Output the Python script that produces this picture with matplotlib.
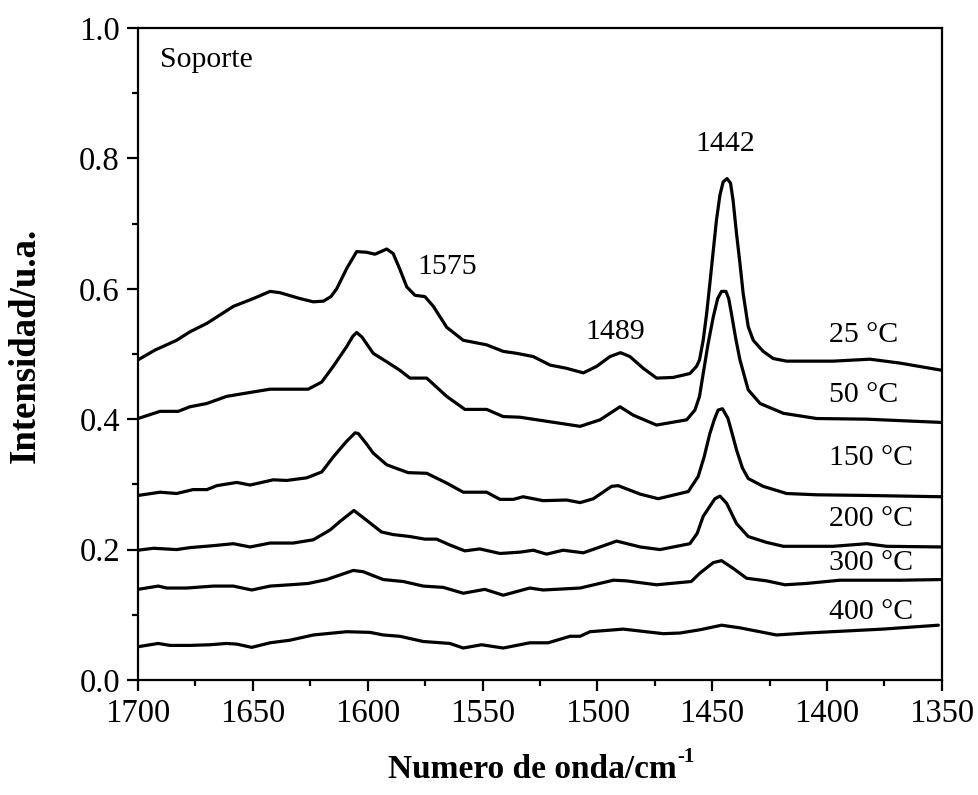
import matplotlib
matplotlib.use("Agg")
import matplotlib.pyplot as plt
from matplotlib.ticker import MultipleLocator, FormatStrFormatter

plt.rcParams['font.family'] = ['Liberation Serif', 'DejaVu Serif']

# FTIR spectra (wavenumber in cm-1, intensity in a.u.) at each desorption temperature
wn_25 = [1700, 1692.6, 1683.2, 1677.4, 1670, 1658.5, 1649.8, 1642.5, 1638.2, 1629.5,
         1623.7, 1619.3, 1616.0, 1613.5, 1609.0, 1604.8, 1600.5, 1596.8, 1591.7, 1588.9,
         1586.0, 1583.0, 1579.4, 1575.1, 1571.4, 1565.6, 1558.4, 1548.2, 1541.0, 1535.1,
         1527.9, 1520.6, 1513.4, 1506.1, 1500.3, 1494.5, 1489.9, 1485.8, 1480.0, 1474.2,
         1467.0, 1459.7, 1456.8, 1455.5, 1453.9, 1452.4, 1451.0, 1449.5, 1448.1, 1446.6,
         1445.2, 1443.5, 1442.0, 1440.9, 1439.4, 1437.9, 1436.5, 1434.3, 1432.1, 1427.8,
         1423.4, 1417.6, 1397.3, 1381.3, 1368.2, 1350]
int_25 = [0.491, 0.506, 0.521, 0.534, 0.547, 0.573, 0.585, 0.596, 0.594, 0.585,
          0.580, 0.581, 0.588, 0.600, 0.632, 0.657, 0.656, 0.653, 0.661, 0.654,
          0.630, 0.603, 0.590, 0.588, 0.573, 0.541, 0.521, 0.514, 0.504, 0.501,
          0.496, 0.483, 0.478, 0.471, 0.481, 0.496, 0.502, 0.496, 0.478, 0.463,
          0.464, 0.470, 0.481, 0.491, 0.521, 0.562, 0.608, 0.659, 0.706, 0.744,
          0.764, 0.769, 0.762, 0.736, 0.685, 0.639, 0.593, 0.542, 0.521, 0.504,
          0.493, 0.489, 0.489, 0.492, 0.486, 0.475]

wn_50 = [1700, 1690.4, 1682.5, 1677.4, 1670.1, 1661.4, 1651.2, 1642.5, 1625.9, 1620.0,
         1615.0, 1609.2, 1606.5, 1604.8, 1602.5, 1597.6, 1591.7, 1586.0, 1581.6, 1574.3,
         1565.6, 1557.7, 1548.2, 1541.0, 1533.7, 1520.6, 1507.5, 1498.8, 1490.1, 1484.3,
         1474.2, 1461.1, 1457.5, 1455.5, 1453.9, 1451.8, 1449.5, 1447.6, 1445.9, 1444.0,
         1442.8, 1441.6, 1439.8, 1437.9, 1434.3, 1429.1, 1419.0, 1404.5, 1382.7, 1350]
int_50 = [0.401, 0.412, 0.412, 0.419, 0.424, 0.435, 0.441, 0.446, 0.446, 0.457,
          0.481, 0.511, 0.527, 0.533, 0.526, 0.501, 0.488, 0.475, 0.463, 0.463,
          0.435, 0.415, 0.415, 0.404, 0.403, 0.396, 0.389, 0.399, 0.419, 0.406,
          0.391, 0.399, 0.414, 0.435, 0.470, 0.515, 0.557, 0.585, 0.596, 0.596,
          0.585, 0.562, 0.525, 0.491, 0.445, 0.424, 0.409, 0.401, 0.400, 0.395]

wn_150 = [1700, 1690.4, 1683.2, 1676.0, 1670, 1665.7, 1657.0, 1651.2, 1641.1, 1635.3,
          1626.6, 1620.0, 1615.0, 1609.2, 1605.5, 1604.1, 1600.5, 1597.6, 1591.7, 1582.4,
          1574.3, 1565.6, 1558.4, 1548.2, 1542.4, 1536.6, 1532.3, 1523.6, 1513.4, 1507.5,
          1501.7, 1493.8, 1490.9, 1481.3, 1473.5, 1460.4, 1456.1, 1453.5, 1451.0, 1449.0,
          1447.4, 1445.5, 1443.1, 1441.3, 1439.4, 1436.8, 1434.3, 1427.8, 1417.6, 1404.5,
          1382.7, 1350]
int_150 = [0.283, 0.288, 0.286, 0.292, 0.292, 0.298, 0.303, 0.299, 0.307, 0.306,
           0.310, 0.319, 0.342, 0.366, 0.379, 0.378, 0.362, 0.348, 0.330, 0.318,
           0.317, 0.302, 0.288, 0.288, 0.277, 0.277, 0.281, 0.275, 0.276, 0.272,
           0.278, 0.297, 0.298, 0.285, 0.278, 0.289, 0.312, 0.342, 0.378, 0.400,
           0.414, 0.416, 0.401, 0.378, 0.353, 0.325, 0.309, 0.297, 0.286, 0.284,
           0.283, 0.281]

wn_200 = [1700, 1693.3, 1683.2, 1677.4, 1667.2, 1658.5, 1651.2, 1642.5, 1632.4, 1623.7,
          1616.4, 1612.1, 1606.0, 1600.5, 1594.0, 1588.9, 1581.6, 1575.1, 1570.0, 1564.2,
          1557.7, 1551.2, 1542.4, 1533.7, 1527.9, 1522.1, 1514.9, 1506.1, 1498.8, 1491.6,
          1481.3, 1472.7, 1459.7, 1456.5, 1453.9, 1448.8, 1446.6, 1443.7, 1439.4, 1434.3,
          1426.3, 1419.0, 1397.3, 1382.7, 1374.0, 1350]
int_200 = [0.199, 0.202, 0.200, 0.203, 0.206, 0.209, 0.204, 0.210, 0.210, 0.215,
           0.230, 0.243, 0.260, 0.245, 0.227, 0.223, 0.220, 0.216, 0.216, 0.207,
           0.198, 0.201, 0.194, 0.196, 0.199, 0.193, 0.199, 0.195, 0.204, 0.213,
           0.204, 0.200, 0.209, 0.225, 0.251, 0.278, 0.282, 0.271, 0.240, 0.220,
           0.211, 0.205, 0.205, 0.209, 0.205, 0.204]

wn_300 = [1700, 1691.2, 1687.5, 1678.8, 1667.2, 1658.5, 1650.5, 1642.5, 1633.8, 1625.9,
          1617.9, 1612.1, 1606.3, 1601.9, 1597.6, 1593.2, 1584.5, 1575.8, 1567.1, 1558.4,
          1549.0, 1541.0, 1529.4, 1523.6, 1507.5, 1493.0, 1487.3, 1474.2, 1459.1, 1455.3,
          1449.5, 1445.9, 1440.8, 1435.0, 1426.3, 1418.3, 1409.0, 1394.4, 1368.2, 1350]
int_300 = [0.139, 0.144, 0.141, 0.141, 0.144, 0.144, 0.138, 0.144, 0.146, 0.148,
           0.154, 0.161, 0.168, 0.166, 0.160, 0.154, 0.151, 0.144, 0.142, 0.133,
           0.139, 0.130, 0.141, 0.138, 0.141, 0.153, 0.152, 0.146, 0.151, 0.164,
           0.180, 0.183, 0.171, 0.156, 0.152, 0.146, 0.148, 0.153, 0.153, 0.154]

wn_400 = [1700, 1691.2, 1686.1, 1677.4, 1668.7, 1661.4, 1657.0, 1650.5, 1642.5, 1633.8,
          1623.7, 1615.0, 1609.2, 1599.0, 1593.2, 1586.0, 1575.8, 1564.2, 1558.4, 1550.4,
          1541.0, 1529.4, 1521.4, 1511.9, 1507.5, 1503.2, 1488.7, 1471.3, 1464.0, 1455.3,
          1445.9, 1438.0, 1422.0, 1409.0, 1375.7, 1351.5]
int_400 = [0.051, 0.056, 0.053, 0.053, 0.054, 0.056, 0.055, 0.050, 0.057, 0.061,
           0.069, 0.072, 0.074, 0.073, 0.069, 0.067, 0.059, 0.056, 0.049, 0.054,
           0.049, 0.057, 0.057, 0.067, 0.067, 0.074, 0.078, 0.071, 0.072, 0.077,
           0.084, 0.080, 0.069, 0.072, 0.078, 0.084]

spectra = [(wn_25, int_25), (wn_50, int_50), (wn_150, int_150),
           (wn_200, int_200), (wn_300, int_300), (wn_400, int_400)]

temp_labels = ['25 °C', '50 °C', '150 °C', '200 °C', '300 °C', '400 °C']
temp_label_y = [0.529, 0.437, 0.340, 0.247, 0.179, 0.104]

band_labels = ['1575', '1489', '1442']
band_label_x = [1565.3, 1492.3, 1444.4]
band_label_y = [0.633, 0.534, 0.822]

fig = plt.figure(figsize=(9.79, 7.95), dpi=100)
ax = fig.add_axes([0.141, 0.1447, 0.821, 0.8201])

for wn, inten in spectra:
    ax.plot(wn, inten, color='black', lw=2.3, solid_joinstyle='round',
            solid_capstyle='round')

ax.set_xlim(1700, 1350)
ax.set_ylim(0, 1.0)
ax.xaxis.set_major_locator(MultipleLocator(50))
ax.xaxis.set_minor_locator(MultipleLocator(25))
ax.yaxis.set_major_locator(MultipleLocator(0.2))
ax.yaxis.set_minor_locator(MultipleLocator(0.1))
ax.yaxis.set_major_formatter(FormatStrFormatter('%.1f'))

ax.tick_params(which='both', direction='out', top=False, right=False,
               width=1.6, labelsize=23.5)
ax.tick_params(which='major', length=8, pad=5)
ax.tick_params(which='minor', length=4.5)
for sp in ax.spines.values():
    sp.set_linewidth(1.6)

ax.set_ylabel('Intensidad/u.a.', fontsize=26.5, fontweight='bold', labelpad=26)
ax.yaxis.label.set_y(0.513)

# x-axis title with a small raised "-1" exponent
xtitle = fig.text(0.5435, 0.0215, 'Numero de onda/cm', fontsize=24,
                  fontweight='bold', ha='center', va='baseline')
fig.canvas.draw()
bb = xtitle.get_window_extent(fig.canvas.get_renderer())
fig.text((bb.x1 + 1) / fig.bbox.width, (bb.y1 - 8) / fig.bbox.height, '-1',
         fontsize=15, fontweight='bold', ha='left', va='baseline')

ax.text(1690.4, 0.951, 'Soporte', fontsize=21.5, ha='left', va='center')

for lab, y in zip(temp_labels, temp_label_y):
    ax.text(1399.2, y, lab, fontsize=21.5, ha='left', va='center')

for lab, x, y in zip(band_labels, band_label_x, band_label_y):
    ax.text(x, y, lab, fontsize=21.5, ha='center', va='center')

fig.savefig('out.png', dpi=100)
